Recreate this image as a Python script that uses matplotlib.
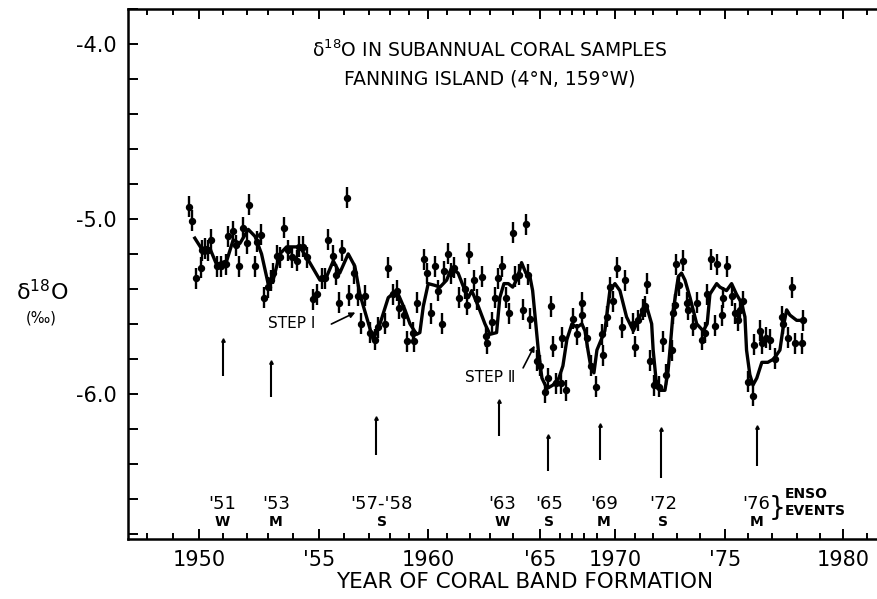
import numpy as np
import matplotlib
matplotlib.use("Agg")
import matplotlib.pyplot as plt

plt.rcParams['font.family'] = ['DejaVu Sans', 'Noto Sans']

# width of each annual coral band on the year axis (1947 ... 1981)
band_start = 1947
band_width = [26.6, 26.6, 26.0, 23.4, 24.0, 21.0, 25.0, 26.6, 24.7, 25.3,
              20.7, 19.3, 19.0, 19.0, 22.7, 20.0, 23.0, 27.0, 20.0, 12.0,
              12.0, 13.0, 18.0, 20.0, 18.0, 24.0, 23.0, 25.0, 23.0, 24.0,
              25.0, 23.0, 23.0, 24.0, 24.0]

# subannual samples
point_years = [1949.60, 1949.73, 1949.87, 1950.06, 1950.13, 1950.24, 1950.38, 1950.49, 1950.77, 1950.93,
               1951.13, 1951.21, 1951.42, 1951.55, 1951.68, 1951.86, 1952.00, 1952.12, 1952.40, 1952.48,
               1952.67, 1952.84, 1953.02, 1953.13, 1953.21, 1953.36, 1953.49, 1953.66, 1953.82, 1953.96,
               1954.15, 1954.25, 1954.38, 1954.53, 1954.77, 1954.90, 1955.10, 1955.23, 1955.34, 1955.54,
               1955.68, 1955.80, 1955.93, 1956.11, 1956.21, 1956.41, 1956.54, 1956.67, 1956.83, 1957.03,
               1957.28, 1957.43, 1957.76, 1957.92, 1958.14, 1958.35, 1958.48, 1958.73, 1958.90, 1959.18,
               1959.26, 1959.39, 1959.79, 1959.92, 1960.13, 1960.35, 1960.53, 1960.71, 1960.84, 1961.02,
               1961.16, 1961.30, 1961.52, 1961.78, 1961.85, 1961.97, 1962.22, 1962.34, 1962.59, 1962.80,
               1962.87, 1963.07, 1963.22, 1963.36, 1963.51, 1963.70, 1963.84, 1963.99, 1964.07, 1964.23,
               1964.38, 1964.48, 1964.57, 1964.63, 1964.88, 1965.00, 1965.25, 1965.40, 1965.55, 1965.67,
               1965.80, 1966.08, 1966.14, 1966.50, 1967.06, 1967.39, 1967.81, 1967.86, 1968.21, 1968.54,
               1968.92, 1969.26, 1969.33, 1969.54, 1969.72, 1969.91, 1970.12, 1970.33, 1970.50, 1970.92,
               1971.00, 1971.18, 1971.46, 1971.56, 1971.65, 1971.83, 1972.04, 1972.25, 1972.43, 1972.54,
               1972.78, 1972.85, 1972.90, 1972.95, 1973.10, 1973.27, 1973.42, 1973.49, 1973.71, 1973.88,
               1974.07, 1974.20, 1974.27, 1974.43, 1974.60, 1974.69, 1974.87, 1974.93, 1975.10, 1975.29,
               1975.43, 1975.58, 1975.65, 1975.80, 1976.00, 1976.21, 1976.25, 1976.50, 1976.57, 1976.74,
               1976.92, 1977.12, 1977.39, 1977.45, 1977.65, 1977.79, 1977.92, 1978.21, 1978.25]
point_d18o = [-4.93, -5.01, -5.34, -5.28, -5.18, -5.17, -5.18, -5.12, -5.27, -5.27,
              -5.26, -5.10, -5.07, -5.15, -5.27, -5.05, -5.14, -4.92, -5.27, -5.13,
              -5.09, -5.45, -5.39, -5.35, -5.31, -5.21, -5.22, -5.05, -5.18, -5.22,
              -5.24, -5.16, -5.16, -5.22, -5.46, -5.43, -5.34, -5.34, -5.12, -5.21,
              -5.32, -5.48, -5.18, -4.88, -5.44, -5.31, -5.44, -5.60, -5.44, -5.65,
              -5.69, -5.62, -5.60, -5.28, -5.43, -5.41, -5.51, -5.55, -5.70, -5.65,
              -5.70, -5.48, -5.23, -5.31, -5.54, -5.27, -5.41, -5.60, -5.30, -5.20,
              -5.31, -5.28, -5.45, -5.40, -5.49, -5.20, -5.35, -5.46, -5.33, -5.67,
              -5.71, -5.59, -5.45, -5.34, -5.27, -5.45, -5.54, -5.08, -5.33, -5.32,
              -5.52, -5.03, -5.32, -5.57, -5.81, -5.84, -5.99, -5.91, -5.50, -5.73,
              -5.94, -5.94, -5.68, -5.98, -5.57, -5.66, -5.48, -5.55, -5.68, -5.84,
              -5.96, -5.66, -5.78, -5.56, -5.39, -5.47, -5.28, -5.62, -5.35, -5.60,
              -5.73, -5.58, -5.52, -5.50, -5.37, -5.81, -5.95, -5.96, -5.70, -5.89,
              -5.75, -5.54, -5.49, -5.26, -5.38, -5.24, -5.48, -5.52, -5.61, -5.48,
              -5.69, -5.65, -5.43, -5.23, -5.61, -5.26, -5.55, -5.45, -5.27, -5.44,
              -5.54, -5.58, -5.52, -5.47, -5.93, -6.01, -5.72, -5.64, -5.71, -5.68,
              -5.69, -5.80, -5.56, -5.60, -5.68, -5.39, -5.71, -5.71, -5.58]

# smoothed curve
curve_years = [1949.83, 1950.24, 1950.46, 1950.74, 1951.17, 1951.44, 1951.72, 1952.08, 1952.40, 1952.71,
               1953.02, 1953.22, 1953.49, 1953.76, 1954.27, 1954.53, 1955.03, 1955.30, 1955.57, 1955.83,
               1956.17, 1956.43, 1956.63, 1957.19, 1957.52, 1957.92, 1958.35, 1958.78, 1959.04, 1959.39,
               1959.56, 1959.74, 1960.00, 1960.35, 1960.62, 1960.97, 1961.19, 1961.48, 1961.78, 1961.93,
               1962.09, 1962.42, 1962.75, 1963.00, 1963.29, 1963.43, 1963.61, 1963.80, 1963.99, 1964.17,
               1964.32, 1964.48, 1964.63, 1964.73, 1964.94, 1965.10, 1965.35, 1965.65, 1965.95, 1966.25,
               1966.58, 1967.00, 1967.42, 1967.83, 1968.08, 1968.31, 1968.54, 1968.77, 1969.00, 1969.28,
               1969.44, 1969.72, 1970.00, 1970.25, 1970.58, 1970.92, 1971.18, 1971.46, 1971.65, 1971.93,
               1972.01, 1972.13, 1972.29, 1972.50, 1972.63, 1972.71, 1972.85, 1973.06, 1973.20, 1973.35,
               1973.57, 1973.86, 1974.13, 1974.29, 1974.40, 1974.67, 1974.80, 1975.07, 1975.29, 1975.50,
               1975.72, 1975.87, 1975.94, 1976.08, 1976.21, 1976.37, 1976.58, 1976.83, 1977.08, 1977.32,
               1977.45, 1977.59, 1977.72, 1977.99, 1978.20]
curve_d18o = [-5.11, -5.20, -5.17, -5.26, -5.24, -5.12, -5.14, -5.06, -5.10, -5.20,
              -5.37, -5.35, -5.20, -5.16, -5.16, -5.22, -5.35, -5.33, -5.24, -5.31,
              -5.20, -5.27, -5.43, -5.69, -5.60, -5.45, -5.41, -5.52, -5.60, -5.66,
              -5.65, -5.50, -5.37, -5.38, -5.39, -5.35, -5.28, -5.31, -5.41, -5.45,
              -5.41, -5.50, -5.60, -5.66, -5.65, -5.45, -5.37, -5.37, -5.39, -5.34,
              -5.25, -5.31, -5.33, -5.41, -5.75, -5.91, -5.97, -5.95, -5.91, -5.84,
              -5.69, -5.60, -5.62, -5.60, -5.64, -5.75, -5.85, -5.88, -5.75, -5.68,
              -5.64, -5.41, -5.37, -5.41, -5.56, -5.64, -5.58, -5.52, -5.50, -5.60,
              -5.75, -5.92, -5.98, -5.98, -5.87, -5.75, -5.52, -5.33, -5.31, -5.35,
              -5.45, -5.60, -5.64, -5.60, -5.43, -5.37, -5.39, -5.41, -5.37, -5.43,
              -5.48, -5.56, -5.75, -5.89, -5.95, -5.91, -5.82, -5.82, -5.80, -5.75,
              -5.62, -5.52, -5.55, -5.58, -5.58]

# ENSO events: arrow positions and labels
enso_years = [1951.03, 1953.13, 1957.32, 1963.39, 1965.40, 1969.17, 1972.33, 1976.37]
enso_top = [-5.69, -5.82, -6.14, -6.04, -6.24, -6.18, -6.20, -6.19]
enso_bottom = [-5.90, -6.02, -6.35, -6.24, -6.44, -6.38, -6.48, -6.41]
enso_label_years = [1950.97, 1953.33, 1957.61, 1963.52, 1965.45, 1969.40, 1972.42, 1976.35]
enso_labels = ["'51", "'53", "'57-'58", "'63", "'65", "'69", "'72", "'76"]
enso_strength = ["W", "M", "S", "W", "S", "M", "S", "M"]

year_ticks = [1950, 1955, 1960, 1965, 1970, 1975, 1980]
year_tick_labels = ["1950", "'55", "1960", "'65", "1970", "'75", "1980"]
d18o_ticks = [-4.0, -5.0, -6.0]
d18o_tick_labels = ["-4.0", "-5.0", "-6.0"]

knot_years = band_start + np.arange(len(band_width) + 1)
knot_pos = np.concatenate([[0.0], np.cumsum(band_width)])


def forward(x):
    return np.interp(x, knot_years, knot_pos)


def inverse(p):
    return np.interp(p, knot_pos, knot_years)


fig = plt.figure(figsize=(8.77, 5.99), dpi=100)
ax = fig.add_axes([128 / 877, 60 / 599, 749 / 877, 530 / 599])
ax.set_xscale('function', functions=(forward, inverse))
ax.set_xlim(1947.3, 1981.42)
ax.set_ylim(-6.83, -3.8)

ax.errorbar(point_years, point_d18o, yerr=0.06, fmt='o', color='k',
            ms=4.3, elinewidth=1.7, capsize=0, zorder=3)
ax.plot(curve_years, curve_d18o, color='k', lw=2.4, solid_joinstyle='round', zorder=2)

ax.vlines(enso_years, enso_bottom, enso_top, color='k', lw=1.5)
ax.plot(enso_years, enso_top, '^', color='k', ms=2.5)
for yr, lab, st in zip(enso_label_years, enso_labels, enso_strength):
    ax.text(yr, -6.63, lab, ha='center', va='center', fontsize=13)
    ax.text(yr, -6.735, st, ha='center', va='center', fontsize=10, fontweight='bold')
ax.text(1977.22, -6.655, "}", ha='center', va='center', fontsize=19)
ax.text(1977.5, -6.575, "ENSO", ha='left', va='center', fontsize=10, fontweight='bold')
ax.text(1977.5, -6.67, "EVENTS", ha='left', va='center', fontsize=10, fontweight='bold')

ax.text(1953.96, -5.60, "STEP Ⅰ", ha='center', va='center', fontsize=11)
ax.annotate("", xy=(1956.55, -5.528), xytext=(1955.39, -5.608),
            arrowprops=dict(arrowstyle='-|>', color='k', lw=1.2, mutation_scale=8))
ax.text(1963.0, -5.906, "STEP Ⅱ", ha='center', va='center', fontsize=11)
ax.annotate("", xy=(1964.85, -5.71), xytext=(1964.33, -5.866),
            arrowprops=dict(arrowstyle='-|>', color='k', lw=1.2, mutation_scale=8))

ax.text(0.483, 0.922, "δ$^{18}$O IN SUBANNUAL CORAL SAMPLES", transform=ax.transAxes,
        ha='center', va='center', fontsize=13.5)
ax.text(0.483, 0.868, "FANNING ISLAND (4°N, 159°W)", transform=ax.transAxes,
        ha='center', va='center', fontsize=13.5)

fig.text(42 / 877, 1 - 292 / 599, "δ$^{18}$O", ha='center', va='center', fontsize=16)
fig.text(41 / 877, 1 - 318 / 599, "(‰)", ha='center', va='center', fontsize=10.5)
fig.text(525 / 877, 1 - 582 / 599, "YEAR OF CORAL BAND FORMATION", ha='center', va='center',
         fontsize=15.5)

ax.set_xticks(year_ticks)
ax.set_xticklabels(year_tick_labels)
ax.set_xticks(np.arange(1948, 1982), minor=True)
ax.set_yticks(d18o_ticks)
ax.set_yticklabels(d18o_tick_labels)
ax.set_yticks(np.arange(-6.8, -3.79, 0.2), minor=True)
ax.tick_params(which='both', direction='in', top=True, right=False, width=1.4, labelsize=15, pad=8)
ax.tick_params(axis='x', which='major', length=7)
ax.tick_params(axis='x', which='minor', length=4.5)
ax.tick_params(axis='y', which='both', length=7)
for side in ['left', 'bottom', 'top']:
    ax.spines[side].set_linewidth(1.8)
ax.spines['right'].set_visible(False)

fig.savefig('out.png', dpi=100)
